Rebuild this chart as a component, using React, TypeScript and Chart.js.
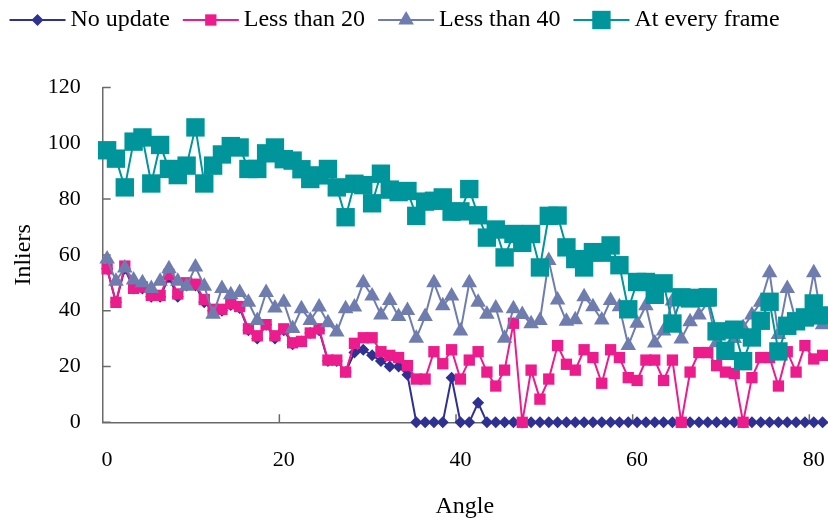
import React, { useEffect, useRef } from 'react';
import { Chart, registerables } from 'chart.js';

Chart.register(...registerables);

// ---- data ----
const angles = [
  0, 1, 2, 3, 4, 5, 6, 7, 8, 9, 10, 11, 12, 13, 14, 15, 16, 17, 18, 19,
  20, 21, 22, 23, 24, 25, 26, 27, 28, 29, 30, 31, 32, 33, 34, 35, 36, 37, 38, 39,
  40, 41, 42, 43, 44, 45, 46, 47, 48, 49, 50, 51, 52, 53, 54, 55, 56, 57, 58, 59,
  60, 61, 62, 63, 64, 65, 66, 67, 68, 69, 70, 71, 72, 73, 74, 75, 76, 77, 78, 79,
  80, 81,
];

const xTickValues = [0, 20, 40, 60, 80];
const yTickValues = [0, 20, 40, 60, 80, 100, 120];

const seriesNames = ['No update', 'Less than 20', 'Less than 40', 'At every frame'];

const noUpdate = [
  55, 43, 55, 48, 48, 45, 45, 52, 45, 49,
  49, 43, 40, 40, 42, 41, 33, 30, 35, 30,
  33, 28, 29, 32, 33, 22, 22, 18, 25, 26,
  24, 22, 20, 20, 17, 0, 0, 0, 0, 16,
  0, 0, 7, 0, 0, 0, 0, 0, 0, 0,
  0, 0, 0, 0, 0, 0, 0, 0, 0, 0,
  0, 0, 0, 0, 0, 0, 0, 0, 0, 0,
  0, 0, 0, 0, 0, 0, 0, 0, 0, 0,
  0, 0,
];

const lessThan20 = [
  55, 43, 56, 48, 48.5, 45.5, 45.5, 53, 46, 50,
  49.5, 44, 40.5, 40.5, 42.5, 41.5, 33.5, 31, 35, 31,
  33.5, 28.5, 29, 32, 33.5, 22.3, 22.3, 18, 28.3, 30.3,
  30.3, 25.3, 24, 23.2, 20.3, 15.5, 15.5, 25.3, 21, 26,
  15.5, 22.3, 25.3, 18, 13, 18.7, 35.5, 0, 18.7, 8.3,
  15.5, 27.5, 20.8, 18.7, 26, 23.2, 14, 26, 23.2, 16,
  15, 22.3, 22.3, 15, 22.3, 0, 18, 25, 25, 20.3,
  18, 17.5, 0, 16, 23.2, 23.2, 13, 25.3, 18, 27.5,
  22.7, 24,
];

const lessThan40 = [
  58.5, 50.6, 55.3, 51, 50, 48, 50.6, 55, 50.6, 48.8,
  55.7, 48.8, 38.7, 48, 45.7, 46.5, 43, 36.5, 46.5, 41,
  43, 33.6, 40.7, 36.5, 41.3, 35.7, 32.4, 40.7, 41.3, 50,
  45.3, 38.5, 43.7, 37.9, 40.1, 30.1, 37.9, 50, 41.8, 45.3,
  32.7, 50, 43, 38.7, 41, 30.1, 40.7, 38.6, 35.3, 36.5,
  58, 43.8, 36.2, 36.8, 45, 41.4, 36.7, 43.7, 41.4, 27.5,
  35.5, 41.8, 28.4, 32.7, 43.5, 29.9, 36, 38.5, 43, 28.5,
  33, 30, 34, 38.5, 43, 53.6, 31.5, 48, 36, 36,
  53.6, 35,
];

const atEveryFrame = [
  97.5, 94.5, 84.2, 100.6, 102.1, 85.6, 99.4, 90.8, 88.6, 92,
  105.7, 85.6, 92, 96, 99, 98.5, 90.8, 90.8, 96.4, 98.5,
  94.3, 93.8, 90.7, 87.2, 88.5, 90.8, 84.2, 73.5, 85.5, 85,
  78.5, 89.1, 83.4, 82.5, 82.9, 74, 79.1, 79.4, 80.6, 75.5,
  75.6, 83.6, 74.2, 66.2, 69.1, 59.1, 67.5, 64.3, 67.5, 55.5,
  74, 74.1, 62.7, 58.5, 55.5, 61, 60.8, 63.4, 56.3, 40.5,
  50.3, 50.3, 45.7, 49.8, 35.4, 44.8, 44.4, 44.6, 44.8, 32.6,
  25.6, 33.2, 21.9, 30.4, 36.4, 43.2, 25.4, 34.6, 36.2, 37.6,
  42.6, 38.3,
];

// ---- styles ----
const FONT = '"Liberation Serif", "Times New Roman", serif';
const AXIS_COLOR = '#6a6a6a';
const COLORS = ['#2E3192', '#EC1C8C', '#6F7DAE', '#00959A'];
const STYLES = ['rectRot', 'rect', 'triangle', 'rect'];
const RADII = [6, 8, 9, 13];

function drawMarker(ctx: CanvasRenderingContext2D, style: string, x: number, y: number, r: number) {
  ctx.beginPath();
  if (style === 'rect') {
    const s = Math.SQRT1_2 * r;
    ctx.rect(x - s, y - s, 2 * s, 2 * s);
  } else if (style === 'rectRot') {
    ctx.moveTo(x - r, y);
    ctx.lineTo(x, y - r);
    ctx.lineTo(x + r, y);
    ctx.lineTo(x, y + r);
    ctx.closePath();
  } else {
    let rad = 0;
    ctx.moveTo(x + Math.sin(rad) * r, y - Math.cos(rad) * r);
    rad += (2 * Math.PI) / 3;
    ctx.lineTo(x + Math.sin(rad) * r, y - Math.cos(rad) * r);
    rad += (2 * Math.PI) / 3;
    ctx.lineTo(x + Math.sin(rad) * r, y - Math.cos(rad) * r);
    ctx.closePath();
  }
  ctx.fill();
}

const legendPlugin = {
  id: 'excelLegend',
  afterDraw(chart: any) {
    const ctx: CanvasRenderingContext2D = chart.ctx;
    ctx.save();
    ctx.font = `24px ${FONT}`;
    ctx.textBaseline = 'middle';
    ctx.fillStyle = '#000';
    let x = 9.5;
    const y = 20;
    const lineLen = 56;
    chart.data.datasets.forEach((ds: any, i: number) => {
      ctx.strokeStyle = COLORS[i];
      ctx.lineWidth = 2;
      ctx.beginPath();
      ctx.moveTo(x, y);
      ctx.lineTo(x + lineLen, y);
      ctx.stroke();
      ctx.fillStyle = COLORS[i];
      drawMarker(ctx, STYLES[i], x + lineLen / 2, y, RADII[i]);
      ctx.fillStyle = '#000';
      const tx = x + lineLen + 5;
      ctx.fillText(ds.label, tx, y);
      x = tx + ctx.measureText(ds.label).width + 13;
    });
    ctx.restore();
  },
};

const inwardTicksPlugin = {
  id: 'inwardTicks',
  beforeDatasetsDraw(chart: any) {
    const ctx: CanvasRenderingContext2D = chart.ctx;
    const { left, bottom } = chart.chartArea;
    const xs = chart.scales.x;
    const ys = chart.scales.y;
    ctx.save();
    ctx.strokeStyle = AXIS_COLOR;
    ctx.lineWidth = 1.5;
    ctx.beginPath();
    xTickValues.forEach((v) => {
      if (v === 0) return;
      const px = xs.getPixelForValue(v - 0.5);
      ctx.moveTo(px, bottom);
      ctx.lineTo(px, bottom - 8);
    });
    yTickValues.forEach((v) => {
      const py = ys.getPixelForValue(v);
      ctx.moveTo(left, py);
      ctx.lineTo(left + 8, py);
    });
    ctx.stroke();
    ctx.restore();
  },
};

export default function App() {
  const canvasRef = useRef<HTMLCanvasElement | null>(null);

  useEffect(() => {
    const canvas = canvasRef.current;
    if (!canvas) return;
    const values = [noUpdate, lessThan20, lessThan40, atEveryFrame];
    const datasets = seriesNames.map((name, i) => ({
      label: name,
      data: angles.map((a, j) => ({ x: a, y: values[i][j] })),
      borderColor: COLORS[i],
      backgroundColor: COLORS[i],
      borderWidth: 2,
      pointStyle: STYLES[i],
      pointRadius: RADII[i],
      pointBorderWidth: 0,
      pointBackgroundColor: COLORS[i],
      tension: 0,
      clip: false,
      order: 4 - i,
    }));

    const chart = new Chart(canvas, {
      type: 'line',
      data: { datasets },
      options: {
        animation: false,
        responsive: false,
        devicePixelRatio: 1,
        layout: { autoPadding: false, padding: { top: 87.5, right: 1, left: 0, bottom: 0 } },
        plugins: {
          legend: { display: false },
          tooltip: { enabled: false },
        },
        scales: {
          x: {
            type: 'linear',
            min: -0.5,
            max: 81.5,
            afterBuildTicks: (s: any) => {
              s.ticks = xTickValues.map((v) => ({ value: v }));
            },
            afterFit: (s: any) => {
              s.height = 100.7;
            },
            grid: { display: false, drawTicks: true, tickLength: 25 },
            border: { display: true, color: AXIS_COLOR, width: 1.5 },
            ticks: {
              padding: 0,
              color: '#000',
              font: { family: FONT, size: 22 },
              maxRotation: 0,
              autoSkip: false,
            },
            title: {
              display: true,
              text: 'Angle',
              color: '#000',
              font: { family: FONT, size: 24 },
              padding: { top: 0, bottom: 2 },
            },
          },
          y: {
            type: 'linear',
            min: 0,
            max: 120,
            afterBuildTicks: (s: any) => {
              s.ticks = yTickValues.map((v) => ({ value: v }));
            },
            afterFit: (s: any) => {
              s.width = 102.7;
            },
            grid: { display: false, drawTicks: true, tickLength: 8 },
            border: { display: true, color: AXIS_COLOR, width: 1.5 },
            ticks: {
              padding: 14,
              color: '#000',
              font: { family: FONT, size: 22 },
            },
            title: {
              display: true,
              text: 'Inliers',
              color: '#000',
              font: { family: FONT, size: 24 },
              padding: { top: 9, bottom: 0 },
            },
          },
        },
      } as any,
      plugins: [inwardTicksPlugin, legendPlugin],
    } as any);

    return () => chart.destroy();
  }, []);

  return (
    <div style={{ position: 'fixed', left: 0, top: 0, width: 828, height: 523, background: '#fff' }}>
      <canvas ref={canvasRef} width={828} height={523} style={{ display: 'block' }} />
    </div>
  );
}
